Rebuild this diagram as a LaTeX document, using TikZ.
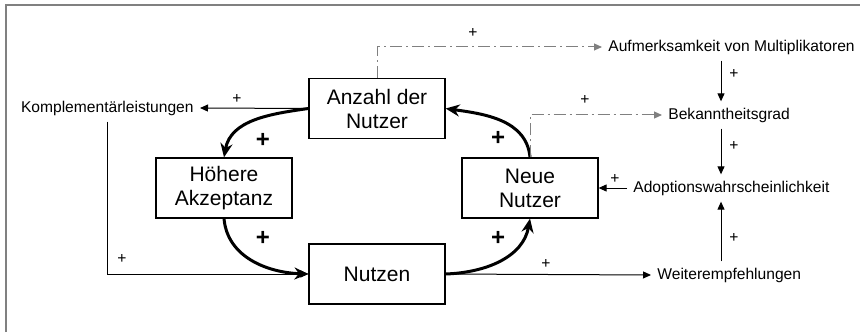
\documentclass[tikz,border=0pt]{standalone}
\usepackage{fontspec}
\setmainfont{Liberation Sans}
\usetikzlibrary{arrows.meta}

\begin{document}
\begin{tikzpicture}[x=0.5pt, y=0.5pt,
			box/.style={draw, line width=0.6pt, minimum width=68pt, minimum height=30pt, align=center, font=\fontsize{10.5}{12}\selectfont},
			txt/.style={inner sep=3pt, font=\fontsize{7.8}{9}\selectfont},
			loopline/.style={line width=1.5pt, -{Stealth[length=7pt,width=6pt]}},
			link/.style={line width=0.5pt, -{Triangle[length=4pt,width=3.5pt]}},
			weak/.style={link, gray, dash pattern=on 6pt off 2pt on 1pt off 2pt},
			pl/.style={inner sep=0pt, font=\fontsize{7.8}{9}\selectfont},
			bigpl/.style={inner sep=0pt, font=\fontsize{12}{12}\selectfont\bfseries}]
	\useasboundingbox (0,0) rectangle (860,332);
	\draw[gray, line width=0.6pt] (6,0) -- (6,327) -- (860,327);

	\node[box] (anz) at (377,223.5) {Anzahl der\\Nutzer};
	\node[box] (hoe) at (224,144) {Höhere\\Akzeptanz};
	\node[box] (nutz) at (377,58) {Nutzen};
	\node[box] (neu) at (530,144) {Neue\\Nutzer};

	\node[txt, anchor=east] (kompl) at (200,224) {Komplementärleistungen};
	\node[txt, anchor=west] (aufm) at (602,285) {Aufmerksamkeit von Multiplikatoren};
	\node[txt, anchor=west] (bek) at (662,217) {Bekanntheitsgrad};
	\node[txt, anchor=west] (adop) at (627,144) {Adoptionswahrscheinlichkeit};
	\node[txt, anchor=west] (weit) at (651,57) {Weiterempfehlungen};
	\coordinate (axis) at (721,0);

	\draw[loopline] (anz.west) to[out=188, in=80] (hoe.north);
	\draw[loopline] (hoe.south) to[out=-85, in=178] (nutz.west);
	\draw[loopline] (nutz.east) to[out=2, in=-100] (neu.south);
	\draw[loopline] (neu.north) to[out=95, in=-8] (anz.east);

	\node[bigpl] at (263,192) {+};
	\node[bigpl] at (263,94) {+};
	\node[bigpl] at (498,94) {+};
	\node[bigpl] at (498,194) {+};

	\draw[link] (anz.west) -- (kompl.east);
	\draw[link] (kompl.south) |- (nutz.west);
	\draw[weak] (anz.north) |- (aufm.west);
	\draw[weak] (neu.north) |- (bek.west);
	\draw[link] (aufm.south -| axis) -- (bek.north -| axis);
	\draw[link] (bek.south -| axis) -- (adop.north -| axis);
	\draw[link] (adop.west) -- (neu.east);
	\draw[link] (nutz.east) -- (weit.west);
	\draw[link] (weit.north -| axis) -- (adop.south -| axis);

	\node[pl] at (237,233) {+};
	\node[pl] at (122,73) {+};
	\node[pl] at (473,299) {+};
	\node[pl] at (734,258) {+};
	\node[pl] at (585,232) {+};
	\node[pl] at (734,186) {+};
	\node[pl] at (615,153) {+};
	\node[pl] at (546,68) {+};
	\node[pl] at (734,94) {+};
\end{tikzpicture}
\end{document}
